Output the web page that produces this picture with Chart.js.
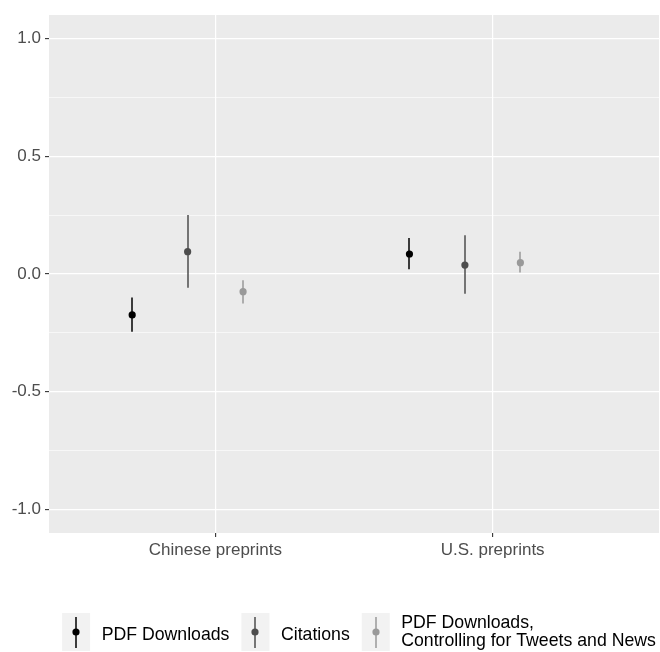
<!DOCTYPE html>
<html>
<head>
<meta charset="utf-8">
<script src="https://cdn.jsdelivr.net/npm/chart.js@4/dist/chart.umd.min.js"></script>
<style>
  html, body { margin: 0; padding: 0; background: #ffffff; }
  #wrap { width: 660px; height: 652px; }
</style>
</head>
<body>
<div id="wrap"><canvas id="c" width="660" height="652"></canvas></div>
<script>
// ---- data ----
const categories = ["Chinese preprints", "U.S. preprints"];
const seriesNames = ["PDF Downloads", "Citations", "PDF Downloads,\nControlling for Tweets and News"];
const seriesColors = ["#000000", "#4D4D4D", "#999999"];
const estPDF = [-0.174, 0.085];
const lowPDF = [-0.245, 0.020];
const highPDF = [-0.100, 0.153];
const estCit = [0.095, 0.038];
const lowCit = [-0.058, -0.084];
const highCit = [0.251, 0.165];
const estCtl = [-0.075, 0.048];
const lowCtl = [-0.125, 0.006];
const highCtl = [-0.027, 0.095];
const yMajorTicks = [-1.0, -0.5, 0.0, 0.5, 1.0];

const est = [estPDF, estCit, estCtl];
const low = [lowPDF, lowCit, lowCtl];
const high = [highPDF, highCit, highCtl];

// dodge: 4 slots within width 0.8, first three used
const dodge = [-0.3, -0.1, 0.1];

const datasets = seriesNames.map((name, s) => ({
  label: name,
  data: categories.map((c, i) => ({ x: i + 1 + dodge[s], y: est[s][i], lo: low[s][i], hi: high[s][i] })),
  backgroundColor: seriesColors[s],
  borderColor: seriesColors[s],
  pointRadius: 3.6,
  pointBorderWidth: 0,
  showLine: false
}));

const yMinor = [];
for (let i = 0; i < yMajorTicks.length - 1; i++) yMinor.push((yMajorTicks[i] + yMajorTicks[i + 1]) / 2);
const yAllTicks = yMajorTicks.concat(yMinor).sort((a, b) => a - b);
const isMajor = v => yMajorTicks.some(m => Math.abs(m - v) < 1e-9);

const panelBg = {
  id: 'panelBg',
  beforeDraw(chart) {
    const { ctx, chartArea: a } = chart;
    ctx.save();
    ctx.fillStyle = '#EBEBEB';
    ctx.fillRect(a.left, a.top, a.right - a.left, a.bottom - a.top);
    ctx.restore();
  }
};

const errorBars = {
  id: 'errorBars',
  beforeDatasetsDraw(chart) {
    const { ctx } = chart;
    const xs = chart.scales.x, ys = chart.scales.y;
    ctx.save();
    ctx.lineWidth = 1.5;
    chart.data.datasets.forEach(ds => {
      ctx.strokeStyle = ds.borderColor;
      ds.data.forEach(p => {
        const px = Math.round(xs.getPixelForValue(p.x));
        ctx.beginPath();
        ctx.moveTo(px, ys.getPixelForValue(p.lo));
        ctx.lineTo(px, ys.getPixelForValue(p.hi));
        ctx.stroke();
      });
    });
    ctx.restore();
  }
};

const legendDraw = {
  id: 'legendDraw',
  afterDraw(chart) {
    const { ctx } = chart;
    ctx.save();
    ctx.font = '17.7px "Liberation Sans", Arial, sans-serif';
    const keyW = 28, keyH = 38, gapText = 11.5, gapItem = 12;
    const items = chart.data.datasets.map(ds => {
      const lines = ds.label.split('\n');
      const w = Math.max(...lines.map(l => ctx.measureText(l).width));
      return { lines, w, color: ds.borderColor };
    });
    const total = items.reduce((s, it) => s + keyW + gapText + it.w, 0) + gapItem * (items.length - 1);
    let x = 359 - total / 2;
    const top = 613;
    items.forEach(it => {
      ctx.fillStyle = '#F2F2F2';
      ctx.fillRect(x, top, keyW, keyH);
      const cx = x + keyW / 2;
      ctx.strokeStyle = it.color;
      ctx.lineWidth = 1.5;
      ctx.beginPath();
      ctx.moveTo(Math.round(cx), top + 4);
      ctx.lineTo(Math.round(cx), top + keyH - 3);
      ctx.stroke();
      ctx.fillStyle = it.color;
      ctx.beginPath();
      ctx.arc(Math.round(cx), top + 19, 3.6, 0, Math.PI * 2);
      ctx.fill();
      ctx.fillStyle = '#000000';
      ctx.textBaseline = 'alphabetic';
      ctx.textAlign = 'left';
      const tx = x + keyW + gapText;
      if (it.lines.length === 1) {
        ctx.fillText(it.lines[0], tx, top + 27);
      } else {
        ctx.fillText(it.lines[0], tx, top + 15);
        ctx.fillText(it.lines[1], tx, top + 33);
      }
      x = tx + it.w + gapItem;
    });
    ctx.restore();
  }
};

const axisFont = { family: '"Liberation Sans", Arial, sans-serif', size: 17 };

new Chart(document.getElementById('c'), {
  type: 'scatter',
  data: { datasets },
  plugins: [panelBg, errorBars, legendDraw],
  options: {
    responsive: false,
    animation: false,
    events: [],
    layout: { autoPadding: false, padding: { top: 15, right: 1, bottom: 79, left: 0 } },
    plugins: { legend: { display: false }, tooltip: { enabled: false } },
    scales: {
      x: {
        type: 'linear',
        min: 0.4, max: 2.6,
        afterBuildTicks(scale) { scale.ticks = categories.map((c, i) => ({ value: i + 1 })); },
        afterFit(scale) { scale.height = 40; },
        border: { display: false },
        grid: { color: '#FFFFFF', lineWidth: 1.2, drawTicks: true, tickLength: 4, tickColor: '#333333', tickWidth: 1.1 },
        ticks: {
          color: '#4D4D4D', font: axisFont, padding: 3, maxRotation: 0, autoSkip: false,
          callback: v => categories[Math.round(v) - 1]
        }
      },
      y: {
        type: 'linear',
        min: -1.1, max: 1.1,
        afterBuildTicks(scale) { scale.ticks = yAllTicks.map(v => ({ value: v })); },
        afterFit(scale) { scale.width = 49; },
        border: { display: false },
        grid: {
          color: '#FFFFFF',
          lineWidth: c => (c.tick && isMajor(c.tick.value)) ? 1.2 : 0.6,
          drawTicks: true, tickLength: 4,
          tickColor: c => (c.tick && isMajor(c.tick.value)) ? '#333333' : 'rgba(0,0,0,0)',
          tickWidth: 1.1
        },
        ticks: {
          color: '#4D4D4D', font: axisFont, padding: 4, autoSkip: false,
          callback: v => isMajor(v) ? v.toFixed(1) : ''
        }
      }
    }
  }
});
</script>
</body>
</html>
